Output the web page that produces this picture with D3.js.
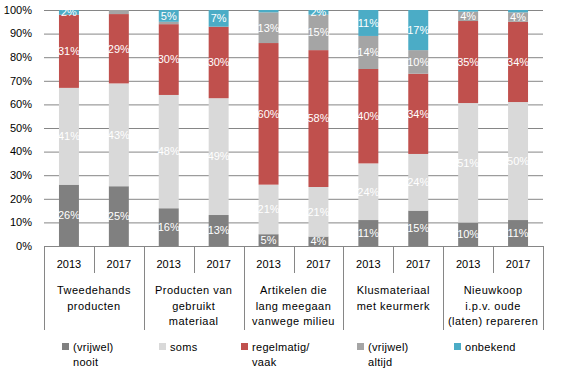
<!DOCTYPE html>
<html><head><meta charset="utf-8">
<script src="https://cdn.jsdelivr.net/npm/d3@7"></script>
<style>
html,body{margin:0;padding:0;background:#fff;}
svg{display:block;font-family:"Liberation Sans",Arial,sans-serif;}
</style></head>
<body><svg id="c" width="578" height="378"></svg>
<script>
const groups = [
  ["Tweedehands","producten"],
  ["Producten van","gebruikt","materiaal"],
  ["Artikelen die","lang meegaan","vanwege milieu"],
  ["Klusmateriaal","met keurmerk"],
  ["Nieuwkoop","i.p.v. oude","(laten) repareren"]
];
const years = ["2013","2017"];
const seriesNames = ["nooit","soms","regelmatig","altijd","onbekend"];
const seriesLabels = [["(vrijwel)","nooit"],["soms"],["regelmatig/","vaak"],["(vrijwel)","altijd"],["onbekend"]];
const colors = ["#808080","#D9D9D9","#C0504D","#A5A5A5","#4BACC6"];
// values per bar: group0-2013, group0-2017, group1-2013, ...
const nooit      = [26, 25, 16, 13,  5,  4, 11, 15, 10, 11];
const soms       = [41, 43, 48, 49, 21, 21, 24, 24, 51, 50];
const regelmatig = [31, 29, 30, 30, 60, 58, 40, 34, 35, 34];
const altijd     = [ 0, 1.7, 1,  0, 13, 15, 14, 10,  4,  4];
const onbekend   = [ 2,  0,  5,  7,  1,  2, 11, 17, 0.7, 1];
const yTicks = [0,0.1,0.2,0.3,0.4,0.5,0.6,0.7,0.8,0.9,1];

const seriesVals = [nooit, soms, regelmatig, altijd, onbekend];
const rows = [];
groups.forEach((g,gi)=>years.forEach((y,yi)=>{
  const i = gi*2+yi;
  const r = {key: gi+"|"+y, year:y, g:gi};
  seriesNames.forEach((s,si)=>r[s]=seriesVals[si][i]);
  rows.push(r);
}));

const svg = d3.select("#c");
const L=44, R=543, T=10, B=246;
const x = d3.scaleBand().domain(rows.map(d=>d.key)).range([L,R]).paddingInner(0.6).paddingOuter(0.3);
const y = d3.scaleLinear().domain([0,1]).range([B,T]);
const stack = d3.stack().keys(seriesNames).offset(d3.stackOffsetExpand);
const stacked = stack(rows);

// gridlines
svg.append("g").selectAll("line").data(yTicks).join("line")
  .attr("x1",L).attr("x2",R).attr("y1",d=>y(d)+0.5).attr("y2",d=>y(d)+0.5)
  .attr("stroke","#868686").attr("stroke-width",1);

// y labels
svg.append("g").selectAll("text").data(yTicks).join("text")
  .attr("x",32).attr("y",d=>y(d)).attr("dy","0.35em").attr("text-anchor","end")
  .attr("font-size",11).attr("fill","#000").text(d=>Math.round(d*100)+"%");

// bars
const layers = svg.append("g").selectAll("g").data(stacked).join("g")
  .attr("fill",(d,i)=>colors[i]);
layers.selectAll("rect").data(d=>d).join("rect")
  .attr("x",d=>x(d.data.key)).attr("width",x.bandwidth())
  .attr("y",d=>y(d[1])).attr("height",d=>Math.max(0,y(d[0])-y(d[1])));

// data labels
stacked.forEach((layer,si)=>{
  svg.append("g").selectAll("text").data(layer.filter(d=>d.data[seriesNames[si]]>=2)).join("text")
    .attr("x",d=>x(d.data.key)+x.bandwidth()/2)
    .attr("y",d=>(y(d[0])+y(d[1]))/2).attr("dy","0.35em")
    .attr("text-anchor","middle").attr("font-size",11).attr("fill","#fff")
    .text(d=>Math.round(d.data[seriesNames[si]])+"%");
});

// x axis baseline
svg.append("line").attr("x1",L).attr("x2",R).attr("y1",B+0.5).attr("y2",B+0.5).attr("stroke","#868686");
const step = x.step();
// year dividers
rows.forEach((d,i)=>{
  const xl = Math.round(x(d.key) - x.paddingOuter()*step + 0) ;
});
const edges = d3.range(rows.length+1).map(i=>L + i*(R-L)/rows.length);
edges.forEach((e,i)=>{
  const long = i%2===0;
  svg.append("line").attr("x1",Math.round(e)+0.5).attr("x2",Math.round(e)+0.5)
    .attr("y1",B).attr("y2",long?330:273).attr("stroke","#868686");
});
// year labels
svg.append("g").selectAll("text").data(rows).join("text")
  .attr("x",d=>x(d.key)+x.bandwidth()/2).attr("y",264).attr("dy","0.35em")
  .attr("text-anchor","middle").attr("font-size",11).attr("fill","#000").text(d=>d.year);
// group labels
groups.forEach((g,gi)=>{
  const cx = (x(rows[gi*2].key)+x(rows[gi*2+1].key)+x.bandwidth())/2;
  const t = svg.append("text").attr("text-anchor","middle").attr("font-size",11).attr("fill","#000")
    .attr("letter-spacing","0.5px");
  g.forEach((line,li)=>t.append("tspan").attr("x",cx).attr("y",290+li*15.8).attr("dy","0.35em").text(line));
});

// legend
const legX = [62,159,241,357,454];
seriesLabels.forEach((lab,i)=>{
  svg.append("rect").attr("x",legX[i]).attr("y",343).attr("width",7).attr("height",7).attr("fill",colors[i]);
  const t = svg.append("text").attr("font-size",11).attr("fill","#000").attr("letter-spacing","0.3px");
  lab.forEach((l,li)=>t.append("tspan").attr("x",legX[i]+11).attr("y",347+li*15.5).attr("dy","0.35em").text(l));
});
</script></body></html>
